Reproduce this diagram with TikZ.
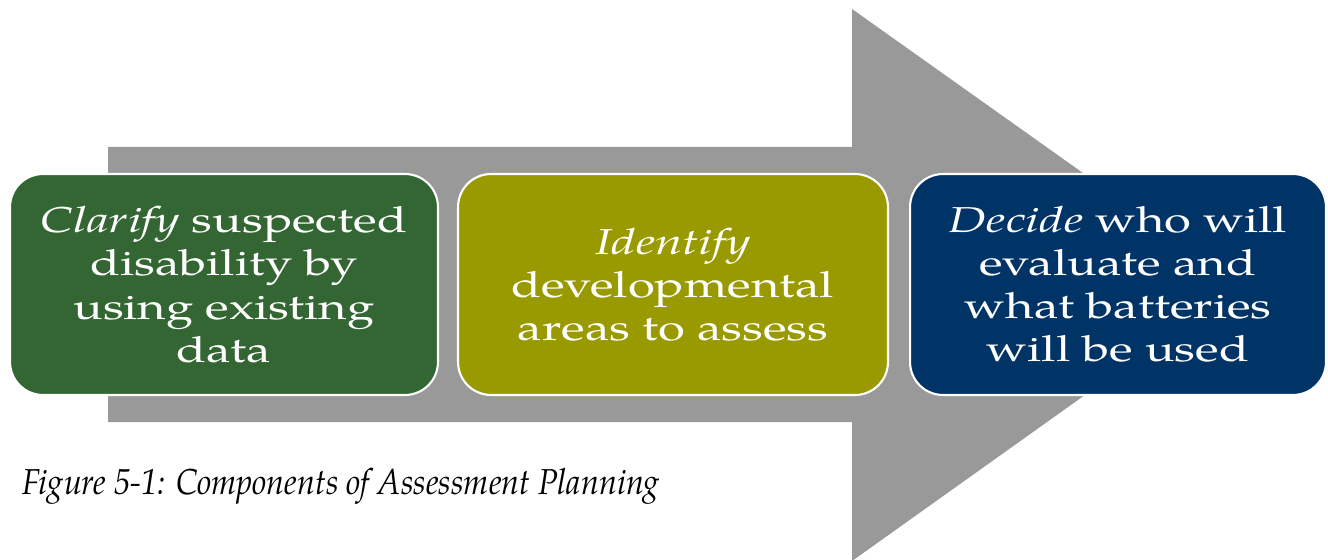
\documentclass[tikz,border=0pt]{standalone}
\usepackage{fontspec}
\setmainfont{TeX Gyre Pagella}
\newfontfamily\boxfont[FakeStretch=1.36]{TeX Gyre Pagella}
\newfontfamily\captionfont[FakeStretch=0.895]{TeX Gyre Pagella}
\definecolor{arrowgray}{RGB}{153,153,153}
\definecolor{clarifygreen}{RGB}{51,102,51}
\definecolor{identifyolive}{RGB}{153,153,0}
\definecolor{decidenavy}{RGB}{0,51,102}
\tikzset{
  stagebox/.style={draw=white, line width=1.2pt, rounded corners=0.66cm,
    minimum height=4.42cm, text=white, align=center,
    font=\boxfont\fontsize{20.5}{24.5}\selectfont},
}

\begin{document}
\begin{tikzpicture}[x=0.02cm, y=-0.02cm]
			%%%%% START %%%%%
			\useasboundingbox (0, 0) rectangle (1328, 560);
			
			% big gray arrow behind the boxes
			\fill[arrowgray] (108, 147) -- (852, 147) -- (852, 9) -- (1240, 284.5)
			  -- (852, 561) -- (852, 422) -- (108, 422) -- cycle;
			
			\node[stagebox, fill=clarifygreen, minimum width=8.56cm] (clarify) at (224, 284.5)
			  {\textit{Clarify} suspected\\disability by\\using existing\\data};
			\node[stagebox, fill=identifyolive, minimum width=8.6cm] (identify) at (673, 284.5)
			  {\textit{Identify}\\developmental\\areas to assess};
			\node[stagebox, fill=decidenavy, minimum width=8.32cm] (decide) at (1118, 284.5)
			  {\textit{Decide} who will\\evaluate and\\what batteries\\will be used};
			
			\node[anchor=base west, inner sep=0pt, font=\captionfont\itshape\fontsize{20.5}{24}\selectfont]
			  (caption) at (22, 494) {Figure 5-1: Components of Assessment Planning};
			
			%%%%% END %%%%%
\end{tikzpicture}
\end{document}
